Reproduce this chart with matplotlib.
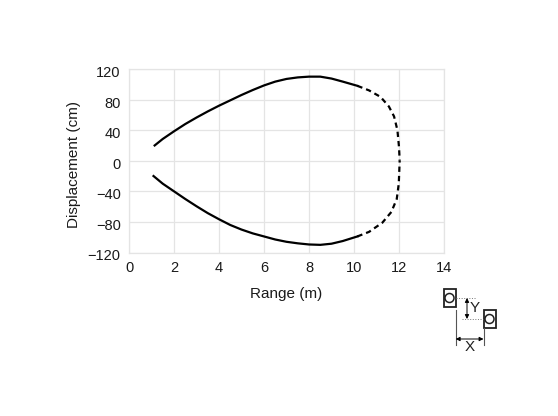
import matplotlib
matplotlib.use("Agg")
import matplotlib.pyplot as plt
from matplotlib.patches import Rectangle, Circle
from matplotlib.transforms import ScaledTranslation

plt.rcParams['font.family'] = ['Liberation Sans', 'DejaVu Sans']

# upper branch (solid part, then dashed part)
upper_x = [1.14, 1.5, 2.0, 2.5, 3.0, 3.5, 4.0, 4.5, 5.0, 5.5, 6.0, 6.5, 7.0, 7.5, 8.0, 8.5, 9.0, 9.5, 10.15]
upper_y = [20, 28.5, 38.5, 48, 56.5, 64.5, 72, 79, 86, 92.5, 98.5, 103.5, 107, 109, 110, 110, 107.5, 103.5, 98]
upper_dash_x = [10.15, 10.67, 11.18, 11.55, 11.78, 11.93, 12.0, 12.03]
upper_dash_y = [98, 92, 83.5, 71, 58, 40, 18, 0]

# lower branch
lower_x = [1.09, 1.5, 2.0, 2.5, 3.0, 3.5, 4.0, 4.5, 5.0, 5.5, 6.0, 6.5, 7.0, 7.5, 8.0, 8.5, 9.0, 9.5, 10.15]
lower_y = [-20, -30, -40, -50, -59.5, -68.5, -76.5, -84, -90, -95, -99, -103, -106, -108, -109.5, -110, -108.5, -105, -99]
lower_dash_x = [10.15, 10.67, 11.26, 11.66, 11.9, 11.99, 12.03]
lower_dash_y = [-99, -93, -81, -67, -50, -30, 0]

x_ticks = [0, 2, 4, 6, 8, 10, 12, 14]
y_ticks = [-120, -80, -40, 0, 40, 80, 120]
y_tick_labels = ['\u2212120', '\u221280', '\u221240', '0', '40', '80', '120']

W, H = 558, 416
fig = plt.figure(figsize=(W / 100, H / 100), dpi=100)
ax = fig.add_axes([129 / W, 1 - 252.5 / H, 315 / W, 183.5 / H])

ax.plot(upper_x, upper_y, color='black', lw=1.6)
ax.plot(lower_x, lower_y, color='black', lw=1.6)
ax.plot(upper_dash_x, upper_dash_y, color='black', lw=1.6, dashes=(2.4, 1.8))
ax.plot(lower_dash_x, lower_dash_y, color='black', lw=1.6, dashes=(2.4, 1.8))

ax.set_xlim(0, 14)
ax.set_ylim(-120, 120)
ax.set_xticks(x_ticks)
ax.set_yticks(y_ticks)
ax.set_yticklabels(y_tick_labels)
ax.grid(color='#e4e4e4', lw=0.9)
ax.set_axisbelow(True)
for s in ax.spines.values():
    s.set_color('#e4e4e4')
    s.set_linewidth(0.9)
ax.tick_params(length=0, labelsize=10.5, pad=6, labelcolor='#1a1a1a')
ax.set_xlabel('Range (m)', fontsize=11, labelpad=9, color='#1a1a1a')
ax.set_ylabel('Displacement (cm)', fontsize=11, color='#1a1a1a')
ax.yaxis.set_label_coords(-0.152, 0.48)

# y tick labels sit a little under their gridlines in the reference
offset = ScaledTranslation(0, -0.025, fig.dpi_scale_trans)
for lab in ax.get_yticklabels():
    lab.set_transform(lab.get_transform() + offset)

# small offset diagram, laid out in pixels
d = fig.add_axes([0, 0, 1, 1], facecolor='none')
d.set_xlim(0, W)
d.set_ylim(H, 0)
d.axis('off')

for rx, ry in [(443.5, 289), (483.5, 310)]:
    d.add_patch(Rectangle((rx, ry), 12, 17.5, fc='white', ec='#222222', lw=1.3))
    d.add_patch(Circle((rx + 6, ry + 9), 4.5, fc='white', ec='#222222', lw=1.1))

d.plot([455.7, 455.7], [310, 345], color='#555555', lw=0.8)
d.plot([483.5, 483.5], [328, 345], color='#555555', lw=0.8)
d.plot([456, 476], [298, 298], color='#777777', lw=0.7, ls=':')
d.plot([462, 483], [319, 319], color='#777777', lw=0.7, ls=':')

arrow = dict(arrowstyle='<|-|>', color='black', lw=0.7, mutation_scale=6, shrinkA=0, shrinkB=0)
d.annotate('', xy=(455.7, 339), xytext=(483.5, 339), arrowprops=arrow)
d.annotate('', xy=(467, 298), xytext=(467, 319), arrowprops=arrow)

d.text(470, 347, 'X', fontsize=11, ha='center', va='center', color='#222222')
d.text(475, 308, 'Y', fontsize=11, ha='center', va='center', color='#222222')

fig.savefig('out.png', dpi=100)
